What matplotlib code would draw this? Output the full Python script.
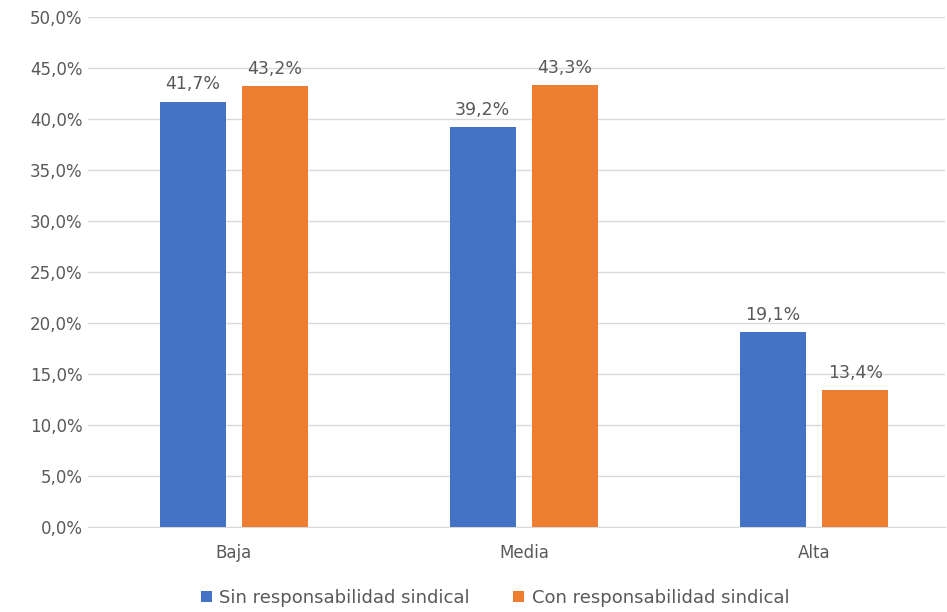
import numpy as np
import matplotlib.pyplot as plt
from matplotlib.ticker import FuncFormatter

plt.rcParams['font.family'] = ['DejaVu Sans']

# data
categories = ['Baja', 'Media', 'Alta']
sin_resp = [41.7, 39.2, 19.1]
con_resp = [43.2, 43.3, 13.4]
series_names = ['Sin responsabilidad sindical', 'Con responsabilidad sindical']

blue = '#4472C4'
orange = '#ED7D31'
gray = '#595959'

fig = plt.figure(figsize=(9.47, 6.12), dpi=100)
ax = fig.add_axes([0.093, 0.139, 0.905, 0.833])

x = np.arange(len(categories))
w = 0.228
off = 0.142
b1 = ax.bar(x - off, sin_resp, w, color=blue, label=series_names[0], zorder=3)
b2 = ax.bar(x + off, con_resp, w, color=orange, label=series_names[1], zorder=3)

# value labels above bars
for bars, vals in [(b1, sin_resp), (b2, con_resp)]:
    for r, v in zip(bars, vals):
        ax.annotate(f'{v:.1f}%'.replace('.', ','),
                    (r.get_x() + r.get_width() / 2, v),
                    xytext=(0, 6), textcoords='offset points',
                    ha='center', va='bottom', fontsize=12.5, color=gray)

ax.set_ylim(0, 50)
ax.set_yticks(np.arange(0, 51, 5))
ax.yaxis.set_major_formatter(FuncFormatter(lambda v, p: f'{v:.1f}%'.replace('.', ',')))
ax.set_xlim(-0.503, 2.452)
ax.set_xticks(x)
ax.set_xticklabels(categories)
ax.tick_params(axis='both', length=0, labelsize=12, colors=gray)
ax.tick_params(axis='x', pad=12)
ax.tick_params(axis='y', pad=4)
ax.grid(axis='y', color='#D9D9D9', linewidth=1, zorder=0)
for s in ['top', 'right', 'left']:
    ax.spines[s].set_visible(False)
ax.spines['bottom'].set_color('#D9D9D9')

fig.legend(loc='lower center', bbox_to_anchor=(0.523, -0.018), ncol=2, frameon=False,
           fontsize=13, labelcolor=gray, handlelength=0.6, handleheight=0.6,
           columnspacing=2.4, handletextpad=0.4)

fig.savefig('out.png', dpi=100)
